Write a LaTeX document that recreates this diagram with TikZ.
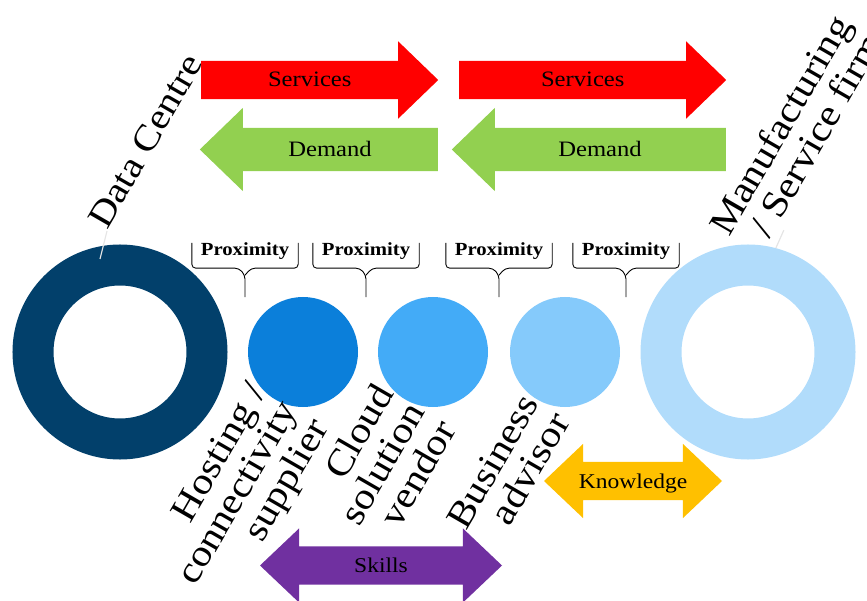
\documentclass[tikz,border=0pt]{standalone}
\usepackage{fontspec}
\setmainfont{Liberation Serif}[FakeStretch=1.12]
\usetikzlibrary{shapes.arrows,positioning}

\definecolor{dcblue}{HTML}{02406B}
\definecolor{hostblue}{HTML}{0B7FDA}
\definecolor{cloudblue}{HTML}{43ABF7}
\definecolor{advblue}{HTML}{85CAFB}
\definecolor{firmblue}{HTML}{B1DCFB}
\definecolor{srvred}{HTML}{FF0000}
\definecolor{demgreen}{HTML}{92D050}
\definecolor{skillpurple}{HTML}{7030A0}
\definecolor{knoworange}{HTML}{FFC000}

\begin{document}
\begin{tikzpicture}[x=1pt,y=-1pt,
  ring/.style={circle, draw=#1, line width=41pt, minimum size=174pt, inner sep=0pt},
  disc/.style={circle, fill=#1, minimum size=110pt, inner sep=0pt},
  flow/.style={single arrow, fill=#1, inner sep=0pt, text height=26pt, text depth=12pt,
    single arrow head extend=19.5pt, single arrow tip angle=88, font=\fontsize{22}{24}\selectfont},
  back/.style={flow=#1, shape border rotate=180, text height=29pt, text depth=14pt,
    single arrow head extend=20pt},
  swap/.style={double arrow, fill=#1, inner sep=0pt, text height=26pt, text depth=12pt,
    double arrow head extend=18pt, double arrow tip angle=87, font=\fontsize{21}{23}\selectfont},
  prox/.style={minimum width=106pt, minimum height=25pt, inner sep=0pt, text height=10pt,
    text depth=10pt, font=\bfseries\fontsize{18.5}{20}\selectfont},
  brace/.style={rounded corners=4pt, line width=0.9pt},
  lbl/.style={rotate=60, inner sep=0pt, align=right, font=\fontsize{37}{36}\selectfont},
  leader/.style={gray!20, line width=1.2pt}]
\path[use as bounding box, clip] (0,0) rectangle (867,601);

% the chain
\node[ring=dcblue] (dc) at (120,352) {};
\node[disc=hostblue] (hst) at (303,352) {};
\node[disc=cloudblue] (cld) at (433,352) {};
\node[disc=advblue] (adv) at (565,352) {};
\node[ring=firmblue] (firm) at (748,352) {};

% labels
\node[lbl, anchor=base west, font=\fontsize{36}{36}\selectfont] (dclbl) at (107,231) {Data Centre};
\node[lbl, anchor=east] (firmlbl) at (857,27) {Manufacturing\\/ Service firm};
\node[lbl, anchor=east] (hstlbl) at ([xshift=-12pt,yshift=2pt]hst.south) {Hosting /\\connectivity\\supplier};
\node[lbl, anchor=east] (cldlbl) at ([xshift=-18pt,yshift=2pt]cld.south) {Cloud\\solution\\vendor};
\node[lbl, anchor=east] (advlbl) at ([xshift=-20pt,yshift=1pt]adv.south) {Business\\advisor};
\draw[leader] (dclbl.base west) -- ++(-7,28);
\draw[leader] (firm.75) -- ++(8,-18);

% flows
\node[flow=srvred, minimum height=237pt, anchor=tail] (srv1) at (201,80) {Services};
\node[flow=srvred, minimum height=267pt, anchor=tail] (srv2) at (459,80) {Services};
\node[back=demgreen, minimum height=238pt, anchor=tail] (dem1) at (438,149.5) {Demand};
\node[back=demgreen, minimum height=274pt, anchor=tail] (dem2) at (726,149.5) {Demand};
\node[swap=skillpurple, minimum height=242pt] (skl) at (381,565.5) {Skills};
\node[swap=knoworange, minimum height=178pt] (knw) at (633,481) {Knowledge};

% proximity braces
\node[prox] (px1) at (245,255.5) {Proximity};
\node[prox] (px2) at (366,255.5) {Proximity};
\node[prox] (px3) at (499,255.5) {Proximity};
\node[prox] (px4) at (626,255.5) {Proximity};
\foreach \p in {px1,px2,px3,px4}{
  \draw[brace] (\p.north west) -- (\p.south west) -- ([xshift=-6pt]\p.south) -- ++(6,7) -- ++(0,22);
  \draw[brace] (\p.north east) -- (\p.south east) -- ([xshift=6pt]\p.south) -- ++(-6,7);
}
\end{tikzpicture}
\end{document}
